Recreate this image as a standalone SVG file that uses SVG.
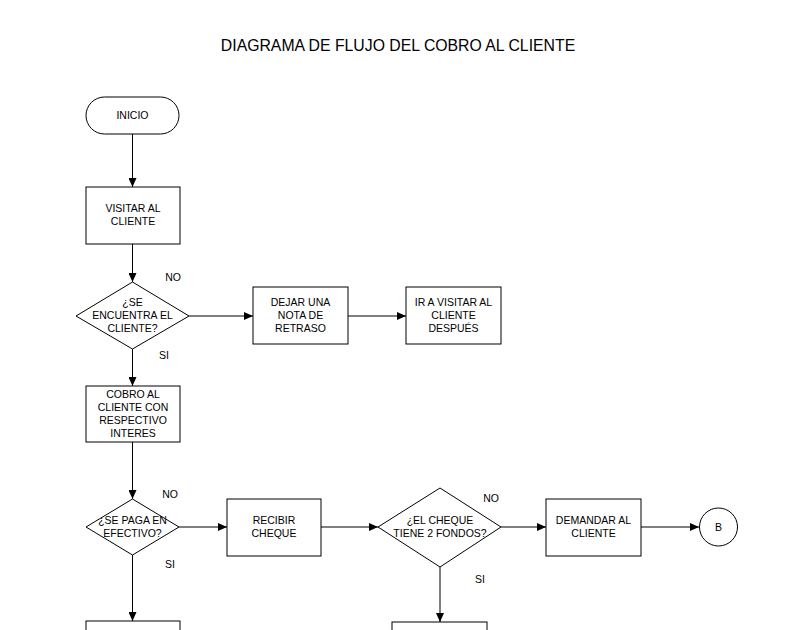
<svg xmlns="http://www.w3.org/2000/svg" width="794" height="630" viewBox="0 0 794 630">
<defs>
<marker id="ah" markerWidth="10" markerHeight="8" refX="9" refY="4" orient="auto" markerUnits="userSpaceOnUse">
<path d="M0,0 L9,4 L0,8 Z" fill="#000"/>
</marker>
<style>
.s{fill:#fff;stroke:#000;stroke-width:1}
.t{font-family:"Liberation Sans",Arial,sans-serif;font-size:10.5px;fill:#000;text-anchor:middle}
.c{fill:none;stroke:#000;stroke-width:1;marker-end:url(#ah)}
.l{fill:none;stroke:#000;stroke-width:1}
</style>
</defs>
<rect width="794" height="630" fill="#fff"/>
<text x="398" y="51" style="font-family:'Liberation Sans',Arial,sans-serif;font-size:15.8px;text-anchor:middle">DIAGRAMA DE FLUJO DEL COBRO AL CLIENTE</text>
<g id="connectors">
<path class="c" d="M132.5,134 V187"/>
<path class="c" d="M132.5,244 V282"/>
<path class="c" d="M189,316 H253"/>
<path class="c" d="M348,316 H406"/>
<path class="c" d="M132.5,349 V386"/>
<path class="c" d="M132.5,442 V499"/>
<path class="c" d="M179,527 H227"/>
<path class="c" d="M321,527 H378"/>
<path class="c" d="M501,527 H546"/>
<path class="c" d="M641,527 H699"/>
<path class="c" d="M132.5,555 V621"/>
<path class="c" d="M440,567 V622"/>
<text class="t" x="173" y="281">NO</text>
<text class="t" x="164" y="359">SI</text>
<text class="t" x="170" y="498">NO</text>
<text class="t" x="170" y="568">SI</text>
<text class="t" x="491" y="502">NO</text>
<text class="t" x="480" y="583">SI</text>
</g>
<g id="inicio">
<rect class="s" x="86" y="97" width="93" height="37" rx="18.5" ry="18.5"/>
<text class="t" x="132.5" y="119">INICIO</text>
</g>
<g id="visitar">
<rect class="s" x="86" y="187" width="94" height="57"/>
<text class="t" x="133" y="212">VISITAR AL</text>
<text class="t" x="133" y="225">CLIENTE</text>
</g>
<g id="encuentra">
<polygon class="s" points="132.5,282 189,316 132.5,349 76,316"/>
<text class="t" x="132.5" y="306">¿SE</text>
<text class="t" x="132.5" y="319">ENCUENTRA EL</text>
<text class="t" x="132.5" y="332">CLIENTE?</text>
</g>
<g id="dejar">
<rect class="s" x="253" y="287" width="95" height="57"/>
<text class="t" x="300.5" y="306">DEJAR UNA</text>
<text class="t" x="300.5" y="319">NOTA DE</text>
<text class="t" x="300.5" y="332">RETRASO</text>
</g>
<g id="ir">
<rect class="s" x="406" y="287" width="95" height="57"/>
<text class="t" x="453.5" y="306">IR A VISITAR AL</text>
<text class="t" x="453.5" y="319">CLIENTE</text>
<text class="t" x="453.5" y="332">DESPUÉS</text>
</g>
<g id="cobro">
<rect class="s" x="86" y="386" width="94" height="56"/>
<text class="t" x="133" y="398">COBRO AL</text>
<text class="t" x="133" y="411">CLIENTE CON</text>
<text class="t" x="133" y="424">RESPECTIVO</text>
<text class="t" x="133" y="437">INTERES</text>
</g>
<g id="efectivo">
<polygon class="s" points="132.5,499 179,527 132.5,555 86,527"/>
<text class="t" x="132.5" y="524">¿SE PAGA EN</text>
<text class="t" x="132.5" y="537">EFECTIVO?</text>
</g>
<g id="recibir">
<rect class="s" x="227" y="499" width="94" height="57"/>
<text class="t" x="274" y="524">RECIBIR</text>
<text class="t" x="274" y="537">CHEQUE</text>
</g>
<g id="fondos">
<polygon class="s" points="440,488 501,527 440,567 378,527"/>
<text class="t" x="440" y="524">¿EL CHEQUE</text>
<text class="t" x="440" y="537">TIENE 2 FONDOS?</text>
</g>
<g id="demandar">
<rect class="s" x="546" y="499" width="95" height="57"/>
<text class="t" x="593.5" y="524">DEMANDAR AL</text>
<text class="t" x="593.5" y="537">CLIENTE</text>
</g>
<g id="b">
<circle class="s" cx="718.5" cy="527" r="19"/>
<text class="t" x="718.5" y="531">B</text>
</g>
<g id="bottom-left">
<rect class="s" x="86" y="621" width="94" height="30"/>
</g>
<g id="bottom-right">
<rect class="s" x="392" y="622" width="95" height="30"/>
</g>
</svg>
